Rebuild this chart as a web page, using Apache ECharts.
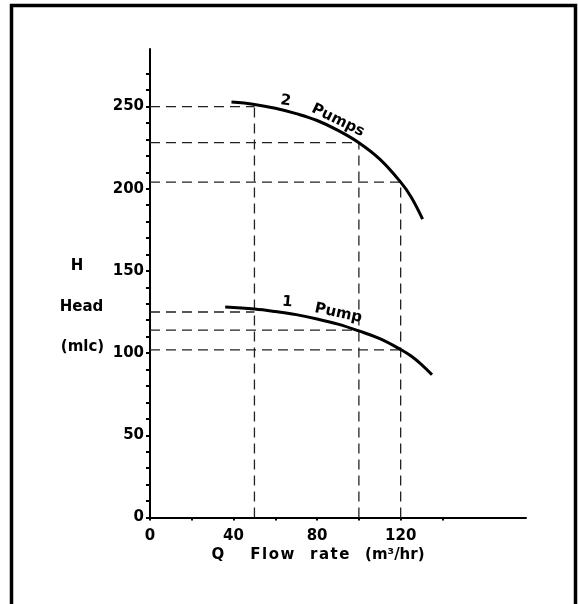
<!DOCTYPE html>
<html>
<head>
<meta charset="utf-8">
<script src="https://cdn.jsdelivr.net/npm/echarts@6/dist/echarts.min.js"></script>
<style>
html,body{margin:0;padding:0;background:#fff;}
#c{width:579px;height:604px;}
</style>
</head>
<body>
<div id="c"></div>
<script>
// ---- data ----
var pump2Q = [39, 50, 60, 70, 80, 90, 100, 110, 120, 125, 130.5];
var pump2H = [252.7, 251.3, 249, 245.7, 241.5, 235.5, 228, 218, 204, 195, 181.5];
var pump1Q = [36, 50, 60, 70, 80, 90, 100, 110, 120, 125, 130, 135];
var pump1H = [128, 126.8, 125.3, 123.4, 120.8, 117.6, 113.5, 108.8, 102.2, 98.2, 93, 86.8];
var opFlows = [50, 100, 120];
var opHead1 = [125, 114, 102];
var opHead2 = [250, 228, 204];
var yTickValues = [0,10,20,30,40,50,60,70,80,90,100,110,120,130,140,150,160,170,180,190,200,210,220,230,240,250,260,270];
var yLabelValues = [0, 50, 100, 150, 200, 250];
var xTickValues = [0, 20, 40, 60, 80, 100, 120, 140];
var xLabelValues = [0, 40, 80, 120];
var curveLabelText = ['2', 'Pumps', '1', 'Pump'];

function zip(a, b) { return a.map(function (v, i) { return [v, b[i]]; }); }

var FONT = '"DejaVu Sans", "Liberation Sans", sans-serif';
var dashed = [];
opFlows.forEach(function (q, i) {
  [[[0, opHead1[i]], [q, opHead1[i]]],
   [[0, opHead2[i]], [q, opHead2[i]]],
   [[q, 0], [q, opHead2[i]]]].forEach(function (seg) {
    dashed.push({
      type: 'line', data: seg, symbol: 'none', silent: true, z: 1,
      lineStyle: { color: '#222', width: 1.3, type: [10, 6] }
    });
  });
});

var chart = echarts.init(document.getElementById('c'), null, { renderer: 'canvas' });
var option = {
  animation: false,
  backgroundColor: '#fff',
  grid: { left: 150, right: 53, top: 49, bottom: 86.5, containLabel: false },
  xAxis: {
    type: 'value', min: 0, max: 180,
    axisLine: { show: true, onZero: false, lineStyle: { color: '#000', width: 2 } },
    axisTick: { show: true, length: 3, customValues: xTickValues, lineStyle: { color: '#000', width: 2 } },
    axisLabel: { customValues: xLabelValues, margin: 11, color: '#000', fontFamily: FONT, fontWeight: 'bold', fontSize: 15 },
    splitLine: { show: false }
  },
  yAxis: {
    type: 'value', min: 0, max: 285,
    axisLine: { show: true, onZero: false, lineStyle: { color: '#000', width: 2 } },
    axisTick: { show: true, length: 4, customValues: yTickValues, lineStyle: { color: '#000', width: 2 } },
    axisLabel: { customValues: yLabelValues, margin: 6, color: '#000', fontFamily: FONT, fontWeight: 'bold', fontSize: 15 },
    splitLine: { show: false }
  },
  graphic: [
    { type: 'rect', silent: true, z: 100, shape: { x: 11.5, y: 5.5, width: 564, height: 660 },
      style: { fill: 'none', stroke: '#000', lineWidth: 3.5 } },
    { type: 'text', x: 77, y: 266, silent: true,
      style: { text: 'H', font: 'bold 15px ' + FONT, fill: '#000', textAlign: 'center', textVerticalAlign: 'middle' } },
    { type: 'text', x: 81.5, y: 307.5, silent: true,
      style: { text: 'Head', font: 'bold 15px ' + FONT, fill: '#000', textAlign: 'center', textVerticalAlign: 'middle' } },
    { type: 'text', x: 82.5, y: 347, silent: true,
      style: { text: '(mlc)', font: 'bold 15px ' + FONT, fill: '#000', textAlign: 'center', textVerticalAlign: 'middle' } },
    { type: 'text', x: 211.5, y: 555, silent: true,
      style: { text: 'Q     F\u200al\u200ao\u200aw   r\u200aa\u200at\u200ae   (m\u00b3/hr)', font: 'bold 15px ' + FONT, fill: '#000', textAlign: 'left', textVerticalAlign: 'middle' } }
  ],
  series: dashed.concat([
    { type: 'line', name: '2 Pumps', data: zip(pump2Q, pump2H), smooth: 0.4, symbol: 'none', silent: true, z: 3,
      lineStyle: { color: '#000', width: 3 } },
    { type: 'line', name: '1 Pump', data: zip(pump1Q, pump1H), smooth: 0.4, symbol: 'none', silent: true, z: 3,
      lineStyle: { color: '#000', width: 3 } },
    { type: 'scatter', symbolSize: 0, silent: true, z: 4, itemStyle: { opacity: 1, color: '#000' },
      label: { show: true, position: 'inside', color: '#000', opacity: 1, textBorderWidth: 0,
        fontFamily: FONT, fontWeight: 'bold', fontSize: 15,
        formatter: function (p) { return p.name; } },
      data: [
        { name: curveLabelText[0], value: [65, 253.5], label: { rotate: -8 } },
        { name: curveLabelText[1], value: [90, 241.5], label: { rotate: -26 } },
        { name: curveLabelText[2], value: [65.7, 131], label: { rotate: -5 } },
        { name: curveLabelText[3], value: [90.2, 124.3], label: { rotate: -12 } }
      ] }
  ])
};
chart.setOption(option);
</script>
</body>
</html>
